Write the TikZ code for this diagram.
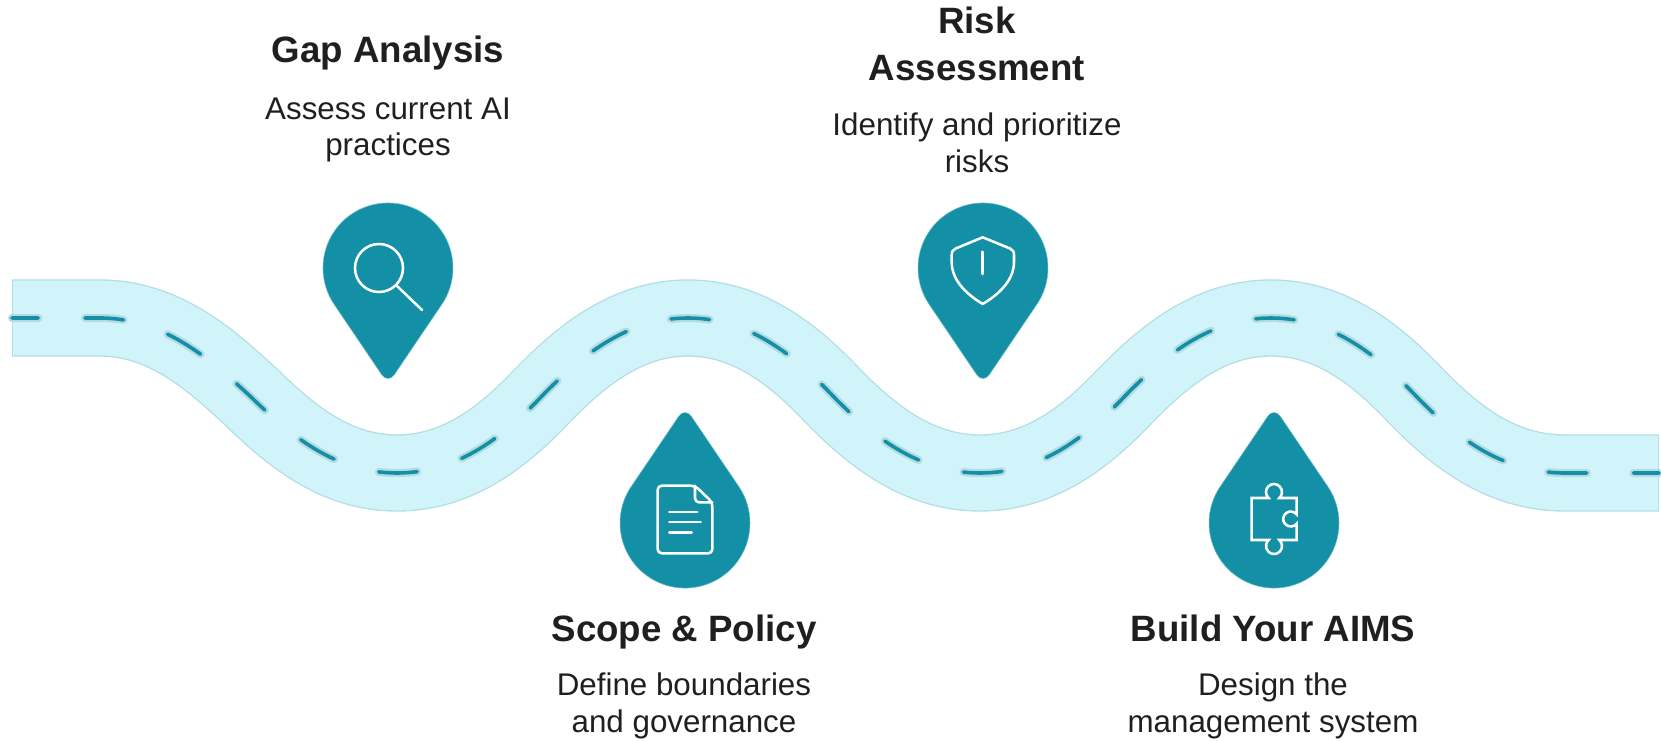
\documentclass[tikz,border=0pt]{standalone}
\usepackage{fontspec}
\setmainfont{Liberation Sans}
\definecolor{teal}{HTML}{1390A6}
\definecolor{roadfill}{HTML}{D0F4FA}
\definecolor{roadedge}{HTML}{B4DDE4}
\definecolor{halo}{HTML}{B4DBE3}
\definecolor{ink}{HTML}{1F1F1F}
\tikzset{
  headtext/.style={align=center,text=ink,font=\fontsize{27.5}{35.25}\selectfont\bfseries,inner sep=0pt},
  bodytext/.style={align=center,text=ink,font=\fontsize{23.5}{27.5}\selectfont,inner sep=0pt},
  pinshape/.style={fill=teal,draw=teal!60!white,line width=.4pt},
  iconline/.style={draw=white,line width=1.9pt,line cap=round,line join=round},
  roadpath/.style={line cap=butt},
  roaddash/.style={line cap=round,dash pattern=on 29pt off 34.9pt,dash phase=9.2pt},
}
\newcommand{\roadcurve}{(12,318) -- (100,318)
  .. controls (165,318) and (212,361) .. (250,396)
  .. controls (290,435) and (335,473) .. (397,473)
  .. controls (459,473) and (505,435) .. (542,396)
  .. controls (580,357) and (626,318) .. (688,318)
  .. controls (750,318) and (796,357) .. (833,396)
  .. controls (871,435) and (918,473) .. (980,473)
  .. controls (1042,473) and (1088,435) .. (1125,396)
  .. controls (1163,357) and (1209,318) .. (1271,318)
  .. controls (1333,318) and (1379,357) .. (1416,396)
  .. controls (1454,435) and (1500,473) .. (1565,473) -- (1659,473)}
\newcommand{\pinpath}{(53.8,-36.4) arc (-34.1:214.1:65) [rounded corners=8.5pt] -- (0,-116) [sharp corners] -- cycle}
\begin{document}
\begin{tikzpicture}[x=.75pt,y=-.75pt]
\useasboundingbox (0,0) rectangle (1661,740);
% road
\draw[roadpath,draw=roadedge,line width=58pt] \roadcurve;
\draw[roadpath,draw=roadfill,line width=56pt] (13,318) -- (100,318)
  .. controls (165,318) and (212,361) .. (250,396)
  .. controls (290,435) and (335,473) .. (397,473)
  .. controls (459,473) and (505,435) .. (542,396)
  .. controls (580,357) and (626,318) .. (688,318)
  .. controls (750,318) and (796,357) .. (833,396)
  .. controls (871,435) and (918,473) .. (980,473)
  .. controls (1042,473) and (1088,435) .. (1125,396)
  .. controls (1163,357) and (1209,318) .. (1271,318)
  .. controls (1333,318) and (1379,357) .. (1416,396)
  .. controls (1454,435) and (1500,473) .. (1565,473) -- (1658,473);
\draw[roaddash,draw=halo,line width=6pt] \roadcurve;
\draw[roaddash,draw=teal,line width=2.7pt] \roadcurve;
% pin 1
\begin{scope}[shift={(388,268)},x=.75pt,y=.75pt]
  \path[pinshape] \pinpath;
\end{scope}
\draw[iconline] (379,268) circle[radius=18pt];
\draw[iconline] (397,286) -- (422,310);
% pin 3
\begin{scope}[shift={(983,268)},x=.75pt,y=.75pt]
  \path[pinshape] \pinpath;
\end{scope}
\draw[iconline] (982.7,237.3) -- (1010,248.5) .. controls (1013,250) and (1014,251.5) .. (1014,255)
  -- (1014,262) .. controls (1014,282) and (996,296) .. (982.7,304)
  .. controls (969.4,296) and (951.7,282) .. (951.7,262) -- (951.7,255)
  .. controls (951.7,251.5) and (952.7,250) .. (955.7,248.5) -- cycle;
\draw[iconline] (982.7,251.7) -- (982.7,274);
% pin 2
\begin{scope}[shift={(685,523)},rotate=180,x=.75pt,y=.75pt]
  \path[pinshape] \pinpath;
\end{scope}
\draw[iconline,rounded corners=3pt] (695,485.7) -- (657.7,485.7) -- (657.7,553.3) -- (712.3,553.3) -- (712.3,502.3) -- cycle;
\draw[iconline,rounded corners=3pt] (695,485.7) -- (695,502.3) -- (712.3,502.3);
\draw[iconline] (669.3,512) -- (697.3,512);
\draw[iconline] (669.3,522) -- (700.7,522);
\draw[iconline] (669.3,532.3) -- (691.7,532.3);
% pin 4
\begin{scope}[shift={(1274,523)},rotate=180,x=.75pt,y=.75pt]
  \path[pinshape] \pinpath;
\end{scope}
\begin{scope}[shift={(1274,519)},x=.75pt,y=.75pt]
  \draw[iconline,line join=miter] (-22.3,21) -- (-5.3,21) arc (228.6:-48.6:8) -- (22.7,21) -- (22.7,4.5)
    arc (37:323:7.5) -- (22.7,-21) -- (5.3,-21) arc (48.6:-228.6:8) -- (-22.3,-21) -- cycle;
\end{scope}
% texts
\node[headtext,anchor=base] (h1) at (388,62.5) {Gap Analysis};
\node[bodytext] (b1) at (388,130) {Assess current AI\\practices};
\node[headtext] (h3) at (977,44) {Risk\\Assessment};
\node[bodytext] (b3) at (977,143) {Identify and prioritize\\risks};
\node[headtext,anchor=base] (h2) at (684,641) {Scope \& Policy};
\node[bodytext] (b2) at (684,706) {Define boundaries\\and governance};
\node[headtext,anchor=base] (h4) at (1273,641) {Build Your AIMS};
\node[bodytext] (b4) at (1273,706) {Design the\\management system};
\end{tikzpicture}
\end{document}
